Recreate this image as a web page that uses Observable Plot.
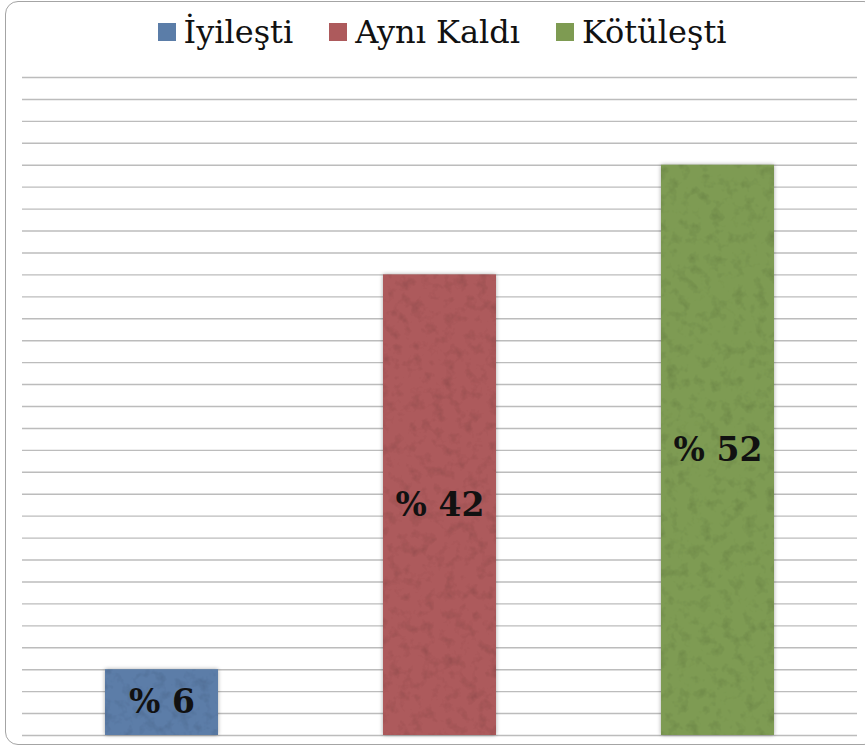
<!DOCTYPE html>
<html>
<head>
<meta charset="utf-8">
<script src="https://cdn.jsdelivr.net/npm/d3@7"></script>
<script src="https://cdn.jsdelivr.net/npm/@observablehq/plot@0.6"></script>
<style>
  html, body { margin: 0; padding: 0; background: #fff; overflow: hidden; }
  #frame { position: absolute; left: 5px; top: 1px; width: 872px; height: 744px;
           border: 1.6px solid #a4a4a4; border-radius: 13px; box-sizing: border-box; }
  #legend { position: absolute; left: 0; top: 13px; width: 884px; display: flex;
            justify-content: center; align-items: center; gap: 36px;
            font-family: "DejaVu Serif", serif; font-size: 32px; color: #111; }
  #legend .item { display: flex; align-items: center; gap: 8px; }
  #legend .sw { width: 18px; height: 18px; display: inline-block; }
  #chart { position: absolute; left: 0; top: 0; }
</style>
</head>
<body>
<div id="frame"></div>
<div id="legend"></div>
<div id="chart"></div>
<script>
const categories = ["İyileşti", "Aynı Kaldı", "Kötüleşti"];
const values = [6, 42, 52];
const labels = ["% 6", "% 42", "% 52"];
const colors = ["#5b7da8", "#ad5a5c", "#7e9b52"];
const gridTicks = d3.range(0, 61, 2);

const data = categories.map((c, i) => ({category: c, value: values[i], label: labels[i]}));

const legend = document.getElementById("legend");
categories.forEach((c, i) => {
  const it = document.createElement("div");
  it.className = "item";
  it.innerHTML = `<span class="sw" style="background:${colors[i]}"></span><span>${c}</span>`;
  legend.appendChild(it);
});

const chart = Plot.plot({
  width: 865,
  height: 751,
  marginLeft: 22,
  marginRight: 8,
  marginTop: 77,
  marginBottom: 16,
  x: {domain: categories, paddingInner: 0.594, paddingOuter: 0.297, axis: null},
  y: {domain: [0, 60], axis: null},
  color: {domain: categories, range: colors},
  style: {background: "transparent", overflow: "visible"},
  marks: [
    Plot.ruleY(gridTicks, {stroke: "#bcbcbc", strokeWidth: 1.4}),
    Plot.barY(data, {x: "category", y: "value", fill: "category"}),
    Plot.text(data, {x: "category", y: d => d.value / 2, text: "label",
      fontSize: 33, fontWeight: "bold", fontFamily: "DejaVu Serif, serif", fill: "#111"})
  ]
});
document.getElementById("chart").appendChild(chart);

// texture + soft shadow for bars
const svgNS = "http://www.w3.org/2000/svg";
const defs = document.createElementNS(svgNS, "defs");
defs.innerHTML = `
<filter id="tex" x="-5%" y="-5%" width="110%" height="110%">
  <feTurbulence type="fractalNoise" baseFrequency="0.09" numOctaves="3" seed="3" result="noise"/>
  <feColorMatrix in="noise" type="matrix" values="0 0 0 0 0  0 0 0 0 0  0 0 0 0 0  0 0 0 -2.2 1.15" result="spots"/>
  <feComposite in="spots" in2="SourceGraphic" operator="in" result="clipped"/>
  <feComponentTransfer in="clipped" result="soft"><feFuncA type="linear" slope="0.25"/></feComponentTransfer>
  <feGaussianBlur in="SourceAlpha" stdDeviation="2" result="blur"/>
  <feComponentTransfer in="blur" result="shadow"><feFuncA type="linear" slope="0.35"/></feComponentTransfer>
  <feMerge><feMergeNode in="shadow"/><feMergeNode in="SourceGraphic"/><feMergeNode in="soft"/></feMerge>
</filter>`;
chart.insertBefore(defs, chart.firstChild);
const barGroup = chart.querySelector("g[aria-label='bar']");
if (barGroup) barGroup.setAttribute("filter", "url(#tex)");
</script>
</body>
</html>
